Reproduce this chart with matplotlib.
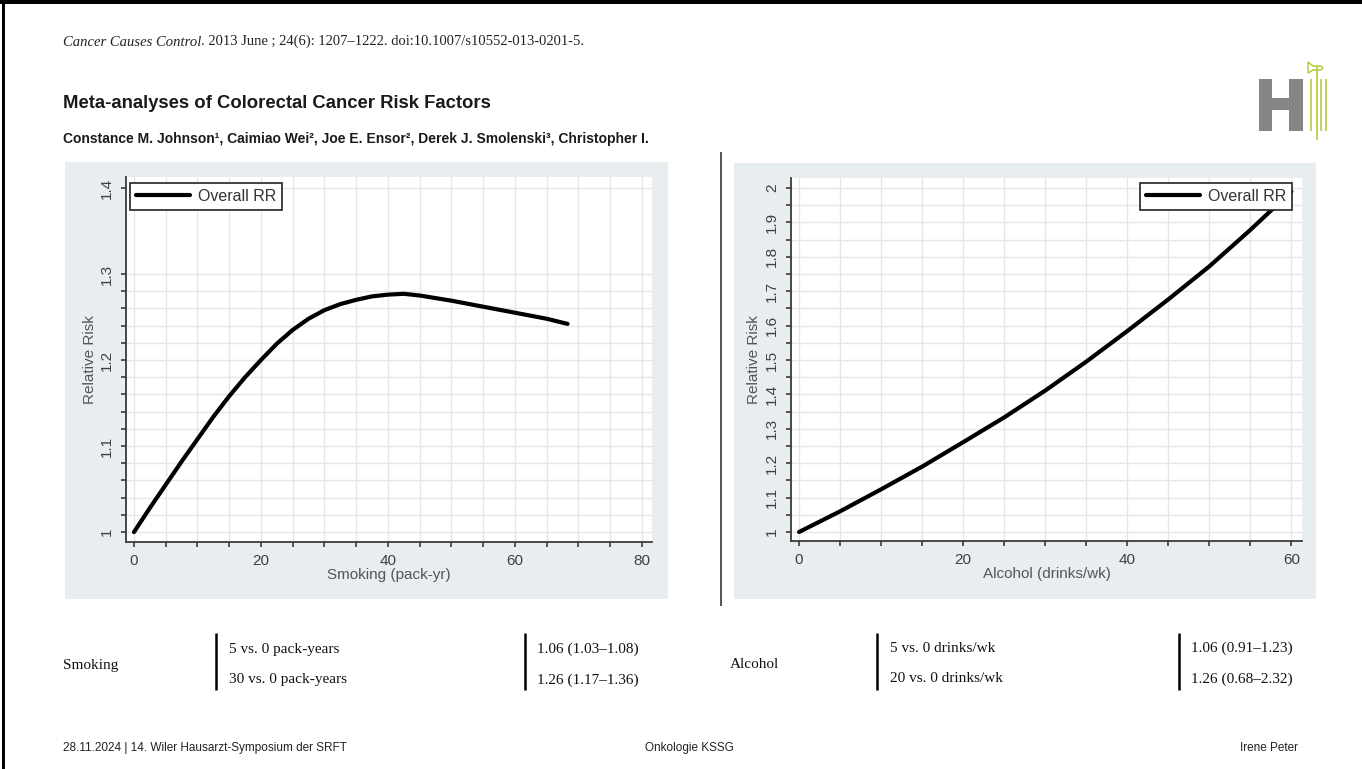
import numpy as np
import matplotlib
matplotlib.use("Agg")
import matplotlib.pyplot as plt
from matplotlib.patches import Rectangle, Polygon

plt.rcParams['font.family'] = ['Liberation Sans', 'DejaVu Sans']

# ---- data -------------------------------------------------------------
smoking_pack_yr = [0, 2.5, 5, 7.5, 10, 12.5, 15, 17.5, 20, 22.5, 25, 27.5,
                   30, 32.5, 35, 37.5, 40, 42.5, 45, 50, 55, 60, 65, 68.3]
smoking_rr = [1.000, 1.028, 1.055, 1.082, 1.108, 1.134, 1.158, 1.180, 1.200,
              1.219, 1.235, 1.248, 1.258, 1.265, 1.270, 1.274, 1.276, 1.277,
              1.275, 1.269, 1.262, 1.255, 1.248, 1.242]

alcohol_drinks_wk = [0, 5, 10, 15, 20, 25, 30, 35, 40, 45, 50, 55, 60]
alcohol_rr = [1.000, 1.060, 1.124, 1.190, 1.261, 1.333, 1.411, 1.495, 1.584,
              1.676, 1.772, 1.878, 1.990]

smoking_xticks = [0, 20, 40, 60, 80]
smoking_yticks = [1.0, 1.1, 1.2, 1.3, 1.4]
smoking_ytick_labels = ['1', '1.1', '1.2', '1.3', '1.4']
alcohol_xticks = [0, 20, 40, 60]
alcohol_yticks = [1.0, 1.1, 1.2, 1.3, 1.4, 1.5, 1.6, 1.7, 1.8, 1.9, 2.0]
alcohol_ytick_labels = ['1', '1.1', '1.2', '1.3', '1.4', '1.5', '1.6',
                        '1.7', '1.8', '1.9', '2']

legend_label = 'Overall RR'

citation_journal = 'Cancer Causes Control'
citation_rest = '. 2013 June ; 24(6): 1207\u20131222. doi:10.1007/s10552-013-0201-5.'
title = 'Meta-analyses of Colorectal Cancer Risk Factors'
authors = ('Constance M. Johnson\u00b9, Caimiao Wei\u00b2, Joe E. Ensor\u00b2, '
           'Derek J. Smolenski\u00b3, Christopher I.')

smoking_rows = ['5 vs. 0 pack-years', '30 vs. 0 pack-years']
smoking_estimates = ['1.06 (1.03\u20131.08)', '1.26 (1.17\u20131.36)']
alcohol_rows = ['5 vs. 0 drinks/wk', '20 vs. 0 drinks/wk']
alcohol_estimates = ['1.06 (0.91\u20131.23)', '1.26 (0.68\u20132.32)']

footer_left = '28.11.2024 | 14. Wiler Hausarzt-Symposium der SRFT'
footer_mid = 'Onkologie KSSG'
footer_right = 'Irene Peter'

# ---- figure -----------------------------------------------------------
W, H = 1362, 769
fig = plt.figure(figsize=(W / 100, H / 100), dpi=100)
fig.patch.set_facecolor('white')


def rect(x0, y0, x1, y1):
    return [x0 / W, 1 - y1 / H, (x1 - x0) / W, (y1 - y0) / H]


# pixel-space canvas for the slide furniture
bg = fig.add_axes([0, 0, 1, 1], zorder=0)
bg.set_xlim(0, W)
bg.set_ylim(H, 0)
bg.axis('off')

PANEL = '#e8edf0'
bg.add_patch(Rectangle((65, 162), 603, 437, facecolor=PANEL, edgecolor='none'))
bg.add_patch(Rectangle((734, 163), 582, 436, facecolor=PANEL, edgecolor='none'))

# slide frame
bg.add_patch(Rectangle((0, 0), W, 4, facecolor='black', edgecolor='none'))
bg.add_patch(Rectangle((2, 0), 3, H, facecolor='black', edgecolor='none'))

# divider between the two figures
bg.plot([721, 721], [152, 606], color='#444444', lw=1.3, solid_capstyle='butt')

# logo
LOGO_GRAY = '#858585'
LOGO_GREEN = '#a9c92f'
bg.add_patch(Rectangle((1259, 79), 13, 52, facecolor=LOGO_GRAY, edgecolor='none'))
bg.add_patch(Rectangle((1289, 79), 14, 52, facecolor=LOGO_GRAY, edgecolor='none'))
bg.add_patch(Rectangle((1272, 98), 17, 12, facecolor=LOGO_GRAY, edgecolor='none'))
for gx, y0, y1 in [(1311, 79, 131), (1316.5, 66, 140), (1321, 79, 131), (1325.5, 79, 131)]:
    bg.plot([gx, gx], [y0, y1], color=LOGO_GREEN, lw=1.1, solid_capstyle='butt')
bg.add_patch(Polygon([(1308, 62), (1313, 66), (1321, 66), (1323, 67.5),
                      (1321, 70), (1313, 70), (1308, 73)], closed=True,
                     facecolor='none', edgecolor=LOGO_GREEN, lw=1.0))

# header texts
serif = ['Liberation Serif', 'DejaVu Serif']
t_journal = bg.text(63, 42, citation_journal, family=serif, style='italic',
                    fontsize=10.5, color='#222222', va='center', ha='left')
bg.annotate(citation_rest, xy=(1, 0), xycoords=t_journal, family=serif,
            fontsize=10.5, color='#222222', va='bottom', ha='left')
bg.text(63, 103, title, fontsize=13.3, fontweight='bold', color='#1a1a1a',
        va='center', ha='left')
bg.text(63, 139, authors, fontsize=10, fontweight='bold', color='#1a1a1a',
        va='center', ha='left')

# summary table under the figures
TABLE_FS = 11
row_y = [649, 680]
bg.text(63, 665, 'Smoking', family=serif, fontsize=TABLE_FS, va='center', color='#111111')
bg.text(730, 665, 'Alcohol', family=serif, fontsize=TABLE_FS, va='center', color='#111111')
for bx in [216, 525, 877, 1179]:
    bg.plot([bx, bx], [633, 690], color='black', lw=1.8, solid_capstyle='butt')
for y, lab, est in zip(row_y, smoking_rows, smoking_estimates):
    bg.text(229, y, lab, family=serif, fontsize=TABLE_FS, va='center', color='#111111')
    bg.text(537, y, est, family=serif, fontsize=TABLE_FS, va='center', color='#111111')
for y, lab, est in zip(row_y, alcohol_rows, alcohol_estimates):
    bg.text(890, y - 1, lab, family=serif, fontsize=TABLE_FS, va='center', color='#111111')
    bg.text(1191, y - 1, est, family=serif, fontsize=TABLE_FS, va='center', color='#111111')

# footer
narrow = ['Liberation Sans Narrow', 'Liberation Sans', 'DejaVu Sans']
bg.text(63, 748, footer_left, family=narrow, fontsize=8.5, va='center', ha='left', color='#222222')
bg.text(645, 748, footer_mid, family=narrow, fontsize=8.5, va='center', ha='left', color='#222222')
bg.text(1298, 748, footer_right, family=narrow, fontsize=8.5, va='center', ha='right', color='#222222')

# ---- plots -----------------------------------------------------------
AX_COLOR = '#3a3a3a'
GRID = '#e6e6e6'
LABEL_COLOR = '#555555'
TICK_COLOR = '#404040'


def style_axes(ax, xticks, yticks, ylabels, xminor, yminor, xlabel):
    ax.set_facecolor('white')
    for s in ('top', 'right'):
        ax.spines[s].set_visible(False)
    for s in ('left', 'bottom'):
        ax.spines[s].set_color(AX_COLOR)
        ax.spines[s].set_linewidth(1.3)
    ax.set_xticks(xticks)
    ax.set_xticklabels([str(v) for v in xticks])
    ax.set_yticks(yticks)
    ax.set_yticklabels(ylabels)
    ax.set_xticks(xminor, minor=True)
    ax.set_yticks(yminor, minor=True)
    ax.grid(which='both', color=GRID, lw=1.0)
    ax.set_axisbelow(True)
    ax.tick_params(which='both', direction='out', length=3.8, width=1.2,
                   color=AX_COLOR, labelsize=11, labelcolor=TICK_COLOR, pad=5)
    ax.tick_params(axis='y', labelrotation=90)
    for lab in ax.get_yticklabels():
        lab.set_va('center')
    ax.set_xlabel(xlabel, fontsize=11, color=LABEL_COLOR, labelpad=0)
    ax.set_ylabel('Relative Risk', fontsize=11, color=LABEL_COLOR, labelpad=2)


def add_legend(ax, loc, anchor_px):
    leg = ax.legend(loc=loc, bbox_to_anchor=(anchor_px[0] / W, 1 - anchor_px[1] / H),
                    bbox_transform=fig.transFigure, borderaxespad=0,
                    fontsize=11.5, handlelength=3.4, handletextpad=0.45,
                    borderpad=0.38, fancybox=False, framealpha=1)
    leg.get_frame().set_edgecolor('#222222')
    leg.get_frame().set_linewidth(1.2)
    for t in leg.get_texts():
        t.set_color('#333333')
    return leg


# smoking
ax1 = fig.add_axes(rect(126, 177, 652, 542), zorder=2)
ax1.plot(smoking_pack_yr, smoking_rr, color='black', lw=3,
         solid_joinstyle='round', solid_capstyle='round', label=legend_label)
ax1.set_xlim(-1.26, 81.6)
ax1.set_ylim(0.9884, 1.4128)
s_xminor = [v for v in np.arange(0, 81, 5) if v not in smoking_xticks]
s_yminor = [round(v, 2) for v in np.arange(1.0, 1.29, 0.02)
            if round(v, 2) not in (1.0, 1.1, 1.2)]
style_axes(ax1, smoking_xticks, smoking_yticks, smoking_ytick_labels,
           s_xminor, s_yminor, 'Smoking (pack-yr)')
add_legend(ax1, 'upper left', (130, 183))

# alcohol
ax2 = fig.add_axes(rect(791, 178, 1302, 541), zorder=2)
ax2.plot(alcohol_drinks_wk, alcohol_rr, color='black', lw=3,
         solid_joinstyle='round', solid_capstyle='round', label=legend_label)
ax2.set_xlim(-0.98, 61.3)
ax2.set_ylim(0.9738, 2.029)
a_xminor = [v for v in np.arange(0, 61, 5) if v not in alcohol_xticks]
a_yminor = [round(v, 2) for v in np.arange(1.05, 2.0, 0.1)]
style_axes(ax2, alcohol_xticks, alcohol_yticks, alcohol_ytick_labels,
           a_xminor, a_yminor, 'Alcohol (drinks/wk)')
ax2.yaxis.labelpad = 3
add_legend(ax2, 'upper right', (1292, 183))

fig.savefig('out.png', dpi=100, facecolor='white')
